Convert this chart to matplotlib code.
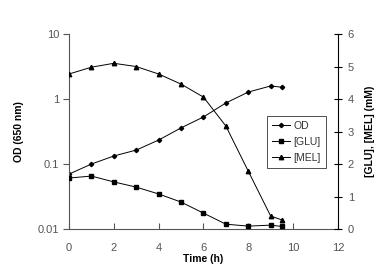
import numpy as np
import matplotlib.pyplot as plt

plt.rcParams['font.family'] = ['Liberation Sans', 'DejaVu Sans']

t = [0, 1, 2, 3, 4, 5, 6, 7, 8, 9, 9.5]
od = [0.07, 0.10, 0.133, 0.164, 0.234, 0.36, 0.53, 0.87, 1.28, 1.59, 1.52]
glu = [1.57, 1.63, 1.45, 1.29, 1.08, 0.83, 0.49, 0.15, 0.09, 0.12, 0.08]
mel = [4.77, 4.98, 5.1, 5.0, 4.77, 4.46, 4.06, 3.17, 1.78, 0.40, 0.28]

gray = '#555555'

fig = plt.figure(figsize=(3.82, 2.73), dpi=100)
ax = fig.add_axes([0.1806, 0.161, 0.704, 0.7143])
ax2 = ax.twinx()

l1, = ax.plot(t, od, color='black', lw=0.7, marker='D', ms=2.2, label='OD')
l2, = ax2.plot(t, glu, color='black', lw=0.7, marker='s', ms=3.0, label='[GLU]')
l3, = ax2.plot(t, mel, color='black', lw=0.7, marker='^', ms=3.2, label='[MEL]')

ax.set_yscale('log')
ax.set_ylim(0.01, 10)
ax.set_yticks([0.01, 0.1, 1, 10])
ax.set_yticklabels(['0.01', '0.1', '1', '10'])
ax.minorticks_off()
ax.set_xlim(0, 12)
ax.set_xticks(range(0, 13, 2))
ax2.set_ylim(0, 6)
ax2.set_yticks(range(0, 7))

for a in (ax, ax2):
    a.spines['top'].set_visible(False)
ax.spines['right'].set_visible(False)
ax.spines['left'].set_color(gray)
ax.spines['bottom'].set_color(gray)
ax2.spines['left'].set_visible(False)
ax2.spines['bottom'].set_visible(False)
ax2.spines['right'].set_color('black')

ax.tick_params(axis='x', direction='in', length=4, colors=gray, labelsize=8, pad=10)
ax.tick_params(axis='y', direction='out', length=4, colors=gray, labelsize=8, pad=3)
ax2.tick_params(axis='y', direction='inout', length=6, colors='black', labelcolor=gray,
                labelsize=8, pad=4)

ax.set_xlabel('Time (h)', fontsize=7.5, fontweight='bold', labelpad=1)
ax.set_ylabel('OD (650 nm)', fontsize=7.5, fontweight='bold', labelpad=10)
ax2.set_ylabel('[GLU], [MEL] (mM)', fontsize=7.5, fontweight='bold', labelpad=8)

leg = ax2.legend(handles=[l1, l2, l3], loc='upper left', bbox_to_anchor=(0.736, 0.58),
                 fontsize=7.5, frameon=True, fancybox=False, edgecolor='black',
                 handlelength=1.8, handletextpad=0.3, borderpad=0.45, labelspacing=0.6,
                 borderaxespad=0)
leg.get_frame().set_linewidth(0.6)
for txt in leg.get_texts():
    txt.set_color('#333333')

fig.savefig('out.png', dpi=100)
